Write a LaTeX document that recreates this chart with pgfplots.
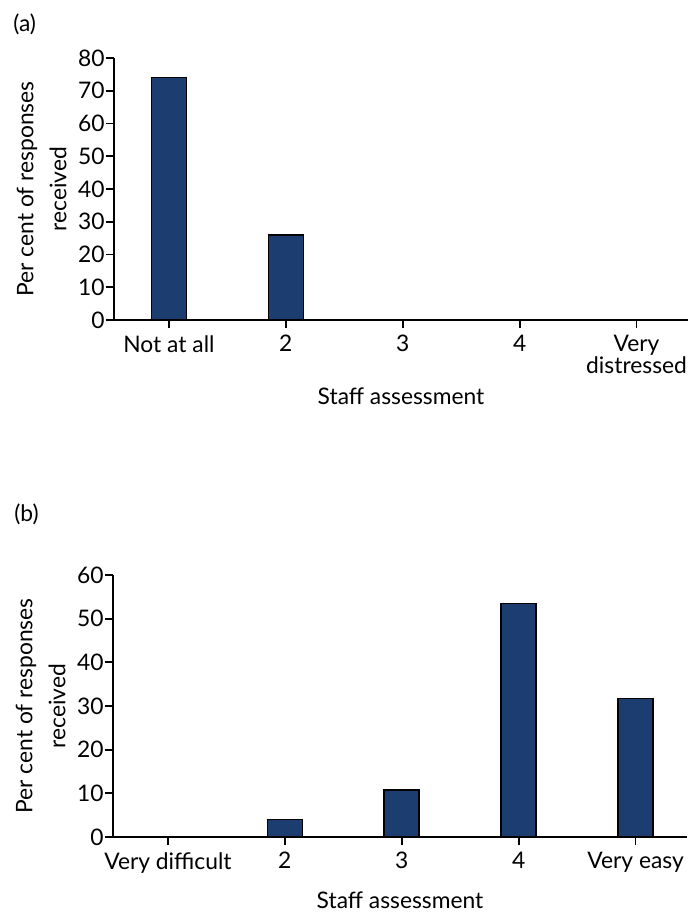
\documentclass[border=0pt]{standalone}
\usepackage{fontspec}
\setmainfont{Lato}
\usepackage{pgfplots}
\pgfplotsset{compat=1.18}
\definecolor{barnavy}{RGB}{28,61,112}

\pgfplotsset{
  staffbars/.style={
    scale only axis,
    width=287pt, height=131pt,
    axis x line=bottom, axis y line=left,
    axis line style={-, line width=0.9pt},
    tick align=outside,
    major tick length=4pt,
    tick style={black, line width=0.9pt},
    xmin=-0.47, xmax=4.44, ymin=0,
    xtick={0,1,2,3,4},
    ybar, bar width=17.5pt,
    font=\fontsize{11.4}{13}\selectfont,
    /pgf/number format/assume math mode=true,
    xticklabel style={align=center, font=\fontsize{11.4}{11}\selectfont, inner sep=3.5pt},
    yticklabel style={font=\fontsize{11.4}{13}\selectfont, inner sep=0.5pt},
    ylabel={Per cent of responses\\received},
    ylabel style={align=center, font=\fontsize{11.4}{16.5}\selectfont,
      at={(axis description cs:-0.082,0.5)}, anchor=south, inner sep=0pt},
    xlabel={Staff assessment},
    xlabel style={at={(axis description cs:0.5,0)}, anchor=base},
  },
  barstyle/.style={fill=barnavy, draw=black, line width=0.8pt},
}

\begin{document}
\begin{tikzpicture}
\useasboundingbox (0,0) rectangle (344pt,457pt);

% (a) distress
\node[anchor=base west, font=\fontsize{11.4}{13}\selectfont, inner sep=0pt] at (6.5pt,441pt) {(a)};
\begin{axis}[staffbars,
  at={(57pt,297pt)}, anchor=south west,
  ymax=80, ytick={0,10,...,80},
  xticklabels={Not at all,2,3,4,{Very\\distressed}},
  xlabel style={yshift=-42.5pt},
]
\addplot[barstyle] coordinates {(0,74) (1,26) (2,0) (3,0) (4,0)};
\end{axis}

% (b) ease
\node[anchor=base west, font=\fontsize{11.4}{13}\selectfont, inner sep=0pt] at (7pt,196pt) {(b)};
\begin{axis}[staffbars,
  at={(56.5pt,38.5pt)}, anchor=south west,
  ymax=60, ytick={0,10,...,60},
  xticklabels={Very difficult,2,3,4,Very easy},
  xlabel style={yshift=-35.5pt},
]
\addplot[barstyle] coordinates {(0,0) (1,4) (2,10.8) (3,53.5) (4,31.7)};
\end{axis}
\end{tikzpicture}
\end{document}
